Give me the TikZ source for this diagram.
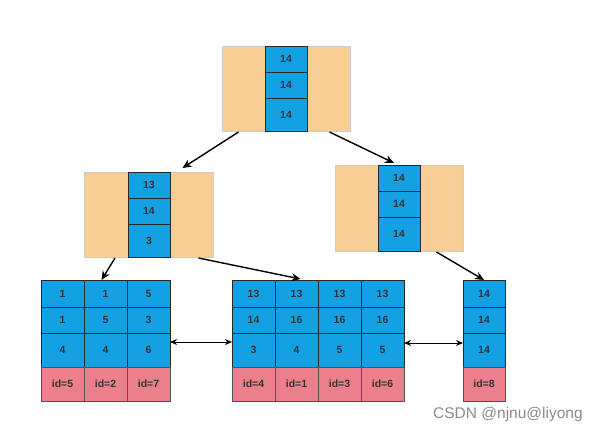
\documentclass[tikz,border=0pt]{standalone}
\usepackage{fontspec}
\setmainfont{Liberation Sans}
\usetikzlibrary{arrows.meta,calc}
\definecolor{cblue}{RGB}{20,161,228}
\definecolor{corange}{RGB}{249,206,150}
\definecolor{cpink}{RGB}{236,127,140}
\definecolor{ctext}{RGB}{51,51,51}
\definecolor{cedge}{RGB}{40,40,40}
\tikzset{
  box/.style={anchor=north west,inner sep=0pt,outer sep=0pt,font=\fontsize{10.5}{12}\selectfont\bfseries,text=ctext},
  bluecell/.style={box,fill=cblue,draw=cedge,line width=0.9pt},
  pinkcell/.style={box,fill=cpink,draw=cedge!80,line width=0.9pt},
  orangecell/.style={box,fill=corange,draw=black!20,line width=0.7pt},
  arr/.style={line width=1.4pt,-{Stealth[length=9pt,width=8pt]}},
  darr/.style={line width=1pt,{Stealth[length=7pt,width=6pt]}-{Stealth[length=7pt,width=6pt]}},
  wm/.style={font=\fontsize{15.5}{17}\selectfont,text=black!45,inner sep=0pt}
}
\newcommand{\mkcell}[7]{\node[#6,minimum width=#4pt,minimum height=#5pt] (#1) at (#2,#3) {#7};}
\begin{document}
\begin{tikzpicture}[x=1pt,y=-1pt]
\useasboundingbox[fill=white] (0,0) rectangle (597,432);
% root
\mkcell{rootL}{222}{46}{43}{85}{orangecell}{}
\mkcell{rootR}{307}{46}{43}{85}{orangecell}{}
\mkcell{rA}{265}{46}{42}{26}{bluecell}{14}
\mkcell{rB}{265}{72}{42}{26}{bluecell}{14}
\mkcell{rC}{265}{98}{42}{33}{bluecell}{14}
% left middle
\mkcell{lmL}{84}{172}{44}{85}{orangecell}{}
\mkcell{lmR}{170}{172}{43}{85}{orangecell}{}
\mkcell{lA}{128}{172}{42}{26}{bluecell}{13}
\mkcell{lB}{128}{198}{42}{26}{bluecell}{14}
\mkcell{lC}{128}{224}{42}{33}{bluecell}{3}
% right middle
\mkcell{rmL}{335}{165}{43}{86}{orangecell}{}
\mkcell{rmR}{420}{165}{43}{86}{orangecell}{}
\mkcell{mA}{378}{165}{42}{26}{bluecell}{14}
\mkcell{mB}{378}{191}{42}{26}{bluecell}{14}
\mkcell{mC}{378}{217}{42}{34}{bluecell}{14}
% leaf 1
\mkcell{aa1}{41}{280}{43}{27}{bluecell}{1}
\mkcell{aa2}{84}{280}{43}{27}{bluecell}{1}
\mkcell{aa3}{127}{280}{43}{27}{bluecell}{5}
\mkcell{ab1}{41}{307}{43}{26}{bluecell}{1}
\mkcell{ab2}{84}{307}{43}{26}{bluecell}{5}
\mkcell{ab3}{127}{307}{43}{26}{bluecell}{3}
\mkcell{ac1}{41}{333}{43}{34}{bluecell}{4}
\mkcell{ac2}{84}{333}{43}{34}{bluecell}{4}
\mkcell{ac3}{127}{333}{43}{34}{bluecell}{6}
\mkcell{ad1}{41}{367}{43}{34}{pinkcell}{id=5}
\mkcell{ad2}{84}{367}{43}{34}{pinkcell}{id=2}
\mkcell{ad3}{127}{367}{43}{34}{pinkcell}{id=7}
% leaf 2
\mkcell{ba1}{232}{280}{43}{27}{bluecell}{13}
\mkcell{ba2}{275}{280}{43}{27}{bluecell}{13}
\mkcell{ba3}{318}{280}{43}{27}{bluecell}{13}
\mkcell{ba4}{361}{280}{43}{27}{bluecell}{13}
\mkcell{bb1}{232}{307}{43}{26}{bluecell}{14}
\mkcell{bb2}{275}{307}{43}{26}{bluecell}{16}
\mkcell{bb3}{318}{307}{43}{26}{bluecell}{16}
\mkcell{bb4}{361}{307}{43}{26}{bluecell}{16}
\mkcell{bc1}{232}{333}{43}{34}{bluecell}{3}
\mkcell{bc2}{275}{333}{43}{34}{bluecell}{4}
\mkcell{bc3}{318}{333}{43}{34}{bluecell}{5}
\mkcell{bc4}{361}{333}{43}{34}{bluecell}{5}
\mkcell{bd1}{232}{367}{43}{34}{pinkcell}{id=4}
\mkcell{bd2}{275}{367}{43}{34}{pinkcell}{id=1}
\mkcell{bd3}{318}{367}{43}{34}{pinkcell}{id=3}
\mkcell{bd4}{361}{367}{43}{34}{pinkcell}{id=6}
% leaf 3
\mkcell{ca1}{463}{280}{42}{27}{bluecell}{14}
\mkcell{cb1}{463}{307}{42}{26}{bluecell}{14}
\mkcell{cc1}{463}{333}{42}{34}{bluecell}{14}
\mkcell{cd1}{463}{367}{42}{34}{pinkcell}{id=8}
% connectors
\draw[arr] ($(rootL.south)+(-5,1)$) -- ($(lmR.north)+(-9,-4)$);
\draw[arr] ($(rootR.south)+(1,1)$) -- ($(mA.north)+(-5,-2)$);
\draw[arr] ($(lmL.south)+(9,1)$) -- ($(aa2.north)+(-4,0)$);
\draw[arr] ($(lmR.south)+(7,1)$) -- ($(ba2.north)+(4,-1)$);
\draw[arr] ($(rmR.south)+(-5,1)$) -- (ca1.north);
\draw[darr] ([yshift=8pt]ac3.east) -- ([yshift=8pt]bc1.west);
\draw[darr] ([yshift=7pt]bc4.east) -- ([yshift=7pt]cc1.west);
% watermark
\node[wm,anchor=west] (mark) at (433,414) {CSDN @njnu@liyong};
\end{tikzpicture}
\end{document}
